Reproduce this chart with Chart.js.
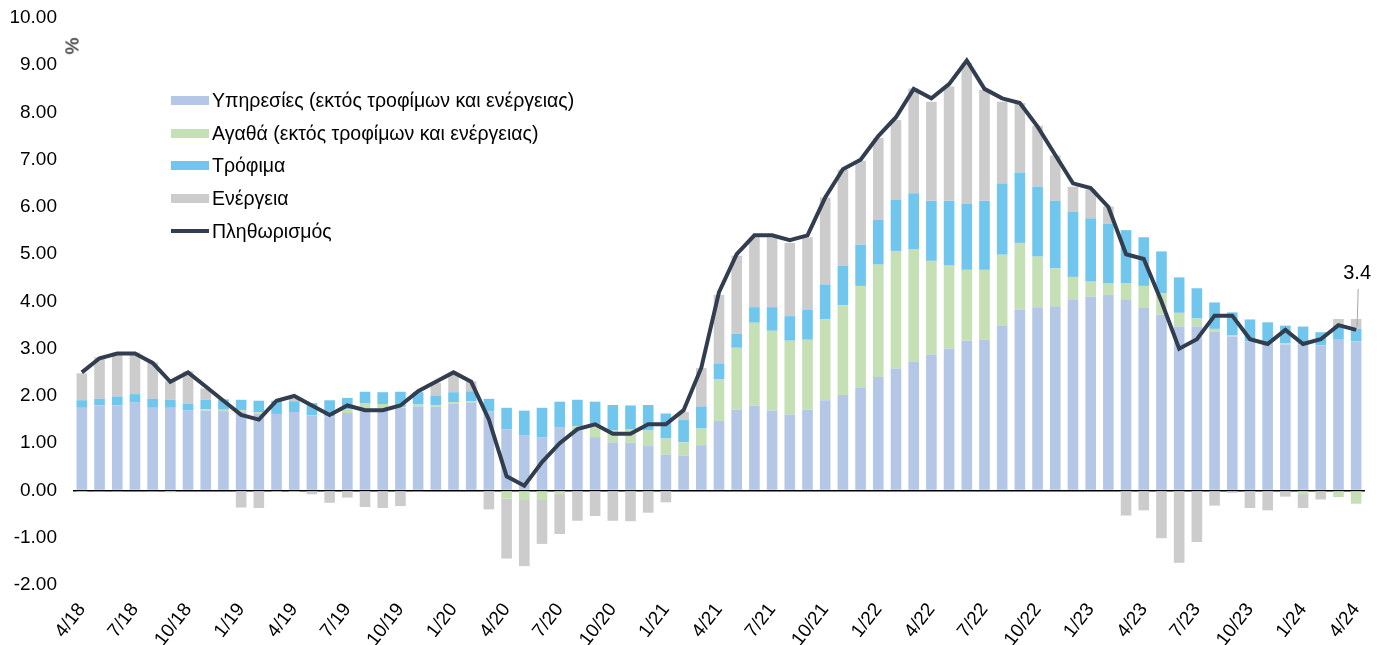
<!DOCTYPE html>
<html>
<head>
<meta charset="utf-8">
<script src="https://cdn.jsdelivr.net/npm/chart.js@4.4.1/dist/chart.umd.min.js"></script>
<style>
	body { margin: 0; background: #fff; font-family: "Liberation Sans", Arial, sans-serif; }
	#wrap { position: relative; width: 1387px; height: 645px; }
	#legend { position: absolute; left: 171px; top: 84px; }
	.lg-row { height: 32.7px; display: flex; align-items: center; font-size: 19.5px; color: #000; white-space: nowrap; }
	.lg-box { width: 38px; height: 9px; margin-right: 3px; }
	.lg-line { width: 38px; height: 4px; margin-right: 3px; background: #323e50; }
	#pct { position: absolute; left: 64px; top: 35px; font-size: 19px; color: #000; transform: rotate(-90deg); transform-origin: center; }
</style>
</head>
<body>
<div id="wrap">
	<canvas id="inflationChart" width="1387" height="645"></canvas>
	<div id="pct">%</div>
	<div id="legend"></div>
</div>
<script>
// months (x axis)
const months = [
	"4/18", "5/18", "6/18", "7/18", "8/18", "9/18", "10/18", "11/18", "12/18",
	"1/19", "2/19", "3/19", "4/19", "5/19", "6/19", "7/19", "8/19", "9/19", "10/19", "11/19", "12/19",
	"1/20", "2/20", "3/20", "4/20", "5/20", "6/20", "7/20", "8/20", "9/20", "10/20", "11/20", "12/20",
	"1/21", "2/21", "3/21", "4/21", "5/21", "6/21", "7/21", "8/21", "9/21", "10/21", "11/21", "12/21",
	"1/22", "2/22", "3/22", "4/22", "5/22", "6/22", "7/22", "8/22", "9/22", "10/22", "11/22", "12/22",
	"1/23", "2/23", "3/23", "4/23", "5/23", "6/23", "7/23", "8/23", "9/23", "10/23", "11/23", "12/23",
	"1/24", "2/24", "3/24", "4/24",
];

// contributions (percentage points)
const services = [
	1.75, 1.80, 1.80, 1.86, 1.75, 1.75, 1.69, 1.69, 1.68, 1.66,
	1.63, 1.62, 1.66, 1.59, 1.57, 1.64, 1.67, 1.68, 1.75, 1.78,
	1.77, 1.84, 1.86, 1.68, 1.29, 1.16, 1.13, 1.33, 1.27, 1.13,
	1.02, 1.01, 0.94, 0.76, 0.74, 0.96, 1.47, 1.71, 1.80, 1.69,
	1.61, 1.71, 1.91, 2.02, 2.17, 2.40, 2.58, 2.73, 2.88, 3.00,
	3.17, 3.19, 3.49, 3.83, 3.88, 3.90, 4.05, 4.10, 4.14, 4.05,
	3.88, 3.72, 3.47, 3.47, 3.36, 3.26, 3.16, 3.14, 3.09, 3.09,
	3.07, 3.19, 3.16,
];
const goods = [
	-0.03, -0.02, -0.01, 0.00, -0.02, -0.04, 0.00, 0.03, 0.03, 0.04,
	0.03, 0.00, -0.03, -0.02, 0.00, 0.08, 0.17, 0.15, 0.02, 0.04,
	0.03, 0.03, 0.03, 0.00, -0.17, -0.20, -0.20, -0.07, 0.09, 0.25,
	0.25, 0.28, 0.33, 0.34, 0.28, 0.35, 0.89, 1.31, 1.75, 1.69,
	1.56, 1.48, 1.71, 1.90, 2.16, 2.38, 2.49, 2.38, 1.98, 1.76,
	1.50, 1.48, 1.50, 1.41, 1.07, 0.80, 0.47, 0.32, 0.24, 0.33,
	0.45, 0.45, 0.29, 0.17, 0.06, 0.02, 0.00, 0.00, 0.03, -0.07,
	-0.03, -0.14, -0.28,
];
const food = [
	0.16, 0.14, 0.19, 0.18, 0.19, 0.17, 0.15, 0.20, 0.21, 0.22,
	0.24, 0.28, 0.23, 0.26, 0.34, 0.24, 0.25, 0.25, 0.32, 0.26,
	0.21, 0.21, 0.21, 0.26, 0.46, 0.53, 0.62, 0.55, 0.56, 0.50,
	0.54, 0.51, 0.54, 0.53, 0.48, 0.47, 0.33, 0.30, 0.33, 0.50,
	0.52, 0.64, 0.74, 0.84, 0.87, 0.95, 1.08, 1.18, 1.27, 1.37,
	1.40, 1.46, 1.51, 1.49, 1.48, 1.43, 1.38, 1.34, 1.26, 1.13,
	1.03, 0.89, 0.75, 0.64, 0.56, 0.49, 0.46, 0.42, 0.37, 0.38,
	0.28, 0.31, 0.26,
];
const energy = [
	0.57, 0.88, 0.93, 0.88, 0.77, 0.39, 0.68, 0.24, 0.02, -0.36,
	-0.37, -0.03, 0.05, -0.06, -0.26, -0.15, -0.35, -0.37, -0.33, -0.02,
	0.27, 0.41, 0.21, -0.40, -1.27, -1.40, -0.93, -0.85, -0.64, -0.54,
	-0.64, -0.65, -0.47, -0.25, 0.16, 0.81, 1.45, 1.65, 1.48, 1.48,
	1.55, 1.53, 1.84, 2.03, 1.78, 1.73, 1.69, 2.22, 2.10, 2.42,
	2.98, 2.35, 1.73, 1.47, 1.29, 0.96, 0.53, 0.61, 0.37, -0.53,
	-0.42, -1.01, -1.53, -1.09, -0.32, -0.05, -0.37, -0.42, -0.13, -0.30,
	-0.16, 0.13, 0.21,
];
// headline inflation (%)
const inflation = [
	2.5, 2.8, 2.9, 2.9, 2.7, 2.3, 2.5, 2.2, 1.9, 1.6,
	1.5, 1.9, 2.0, 1.8, 1.6, 1.8, 1.7, 1.7, 1.8, 2.1,
	2.3, 2.5, 2.3, 1.5, 0.3, 0.1, 0.6, 1.0, 1.3, 1.4,
	1.2, 1.2, 1.4, 1.4, 1.7, 2.6, 4.2, 5.0, 5.4, 5.4,
	5.3, 5.4, 6.2, 6.8, 7.0, 7.5, 7.9, 8.5, 8.3, 8.6,
	9.1, 8.5, 8.3, 8.2, 7.7, 7.1, 6.5, 6.4, 6.0, 5.0,
	4.9, 4.0, 3.0, 3.2, 3.7, 3.7, 3.2, 3.1, 3.4, 3.1,
	3.2, 3.5, 3.4,
];
const seriesNames = [
	"Υπηρεσίες (εκτός τροφίμων και ενέργειας)",
	"Αγαθά (εκτός τροφίμων και ενέργειας)",
	"Τρόφιμα",
	"Ενέργεια",
	"Πληθωρισμός",
];
const colors = ["#b4c7e7", "#c5e0b4", "#71c6ed", "#cccccc", "#323e50"];

// html legend
var legendHtml = "";
for (let i = 0; i < seriesNames.length; i++) {
	let mark = i < 4
		? `<div class="lg-box" style="background:${colors[i]}"></div>`
		: `<div class="lg-line"></div>`;
	legendHtml += `<div class="lg-row">${mark}<span>${seriesNames[i]}</span></div>`;
}
document.getElementById("legend").innerHTML = legendHtml;

// label "3.4" on the last point
const lastLabel = {
	id: "lastLabel",
	afterDatasetsDraw(chart) {
		const ctx = chart.ctx;
		const last = inflation.length - 1;
		const x = chart.scales.x.getPixelForValue(last);
		const y = chart.scales.y.getPixelForValue(inflation[last]);
		ctx.save();
		ctx.strokeStyle = "#a6a6a6";
		ctx.lineWidth = 1;
		ctx.beginPath();
		ctx.moveTo(x + 1, y - 3);
		ctx.lineTo(x + 2, y - 41);
		ctx.stroke();
		ctx.fillStyle = "#000";
		ctx.font = '20px "Liberation Sans", Arial, sans-serif';
		ctx.textAlign = "center";
		ctx.textBaseline = "middle";
		ctx.fillText(inflation[last].toFixed(1), x + 1, y - 56);
		ctx.restore();
	},
};

const tickFont = { family: '"Liberation Sans", Arial, sans-serif', size: 19 };

new Chart(document.getElementById("inflationChart"), {
	type: "bar",
	data: {
		labels: months,
		datasets: [
			{
				type: "line",
				label: seriesNames[4],
				data: inflation,
				borderColor: colors[4],
				borderWidth: 4,
				pointRadius: 0,
				tension: 0,
				stack: "line",
				order: 0,
			},
			{ label: seriesNames[0], data: services, backgroundColor: colors[0], stack: "c", order: 1 },
			{ label: seriesNames[1], data: goods, backgroundColor: colors[1], stack: "c", order: 1 },
			{ label: seriesNames[2], data: food, backgroundColor: colors[2], stack: "c", order: 1 },
			{ label: seriesNames[3], data: energy, backgroundColor: colors[3], stack: "c", order: 1 },
		],
	},
	options: {
		responsive: false,
		animation: false,
		datasets: { bar: { barPercentage: 0.6, categoryPercentage: 1.0 } },
		layout: { padding: { top: 18, right: 22, left: 0, bottom: 0 } },
		plugins: { legend: { display: false }, tooltip: { enabled: false } },
		scales: {
			x: {
				stacked: true,
				grid: { display: false },
				border: { display: false },
				ticks: {
					autoSkip: false,
					minRotation: 52,
					maxRotation: 52,
					padding: 6,
					color: "#000",
					font: tickFont,
					callback: function (value, index) {
						return index % 3 === 0 ? months[index] : "";
					},
				},
				afterFit: (scale) => {
					scale.height = 60;
					scale.paddingLeft = 0;
					scale.paddingRight = 0;
				},
			},
			y: {
				stacked: true,
				min: -2,
				max: 10,
				border: { display: false },
				grid: {
					drawTicks: false,
					lineWidth: 1.5,
					color: (c) => (c.tick && c.tick.value === 0 ? "#000" : "rgba(0,0,0,0)"),
				},
				ticks: {
					stepSize: 1,
					padding: 16,
					color: "#000",
					font: tickFont,
					callback: (v) => v.toFixed(2),
				},
				afterFit: (scale) => {
					scale.width = 73;
					scale.paddingTop = 0;
					scale.paddingBottom = 0;
				},
			},
		},
	},
	plugins: [lastLabel],
});
</script>
</body>
</html>
